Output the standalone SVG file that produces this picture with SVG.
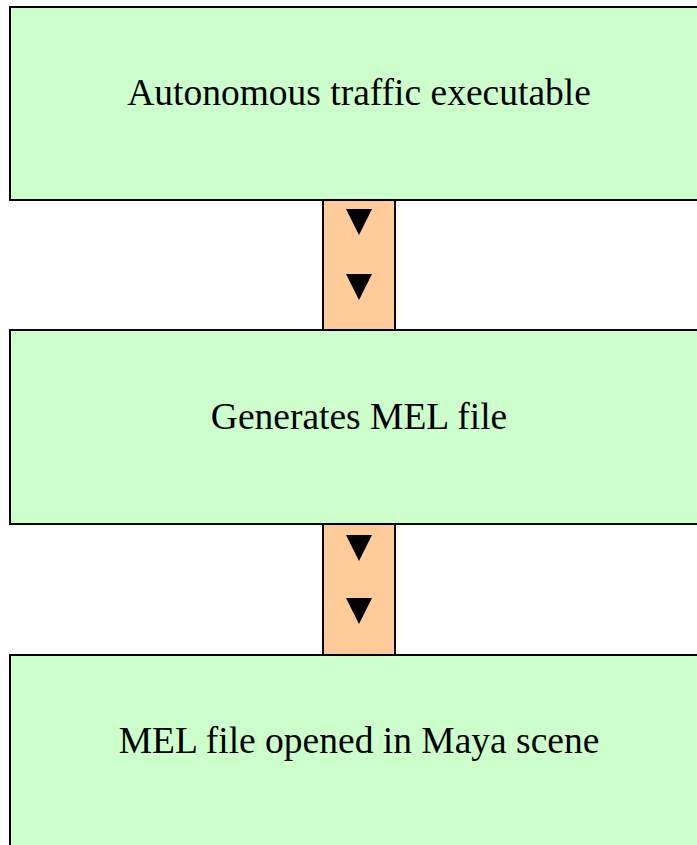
<svg xmlns="http://www.w3.org/2000/svg" width="697" height="845" viewBox="0 0 697 845">
<style>
.box{fill:#CCFFCC;stroke:#000;stroke-width:2}
.conn{fill:#FFCC99;stroke:#000;stroke-width:2}
.lbl{font-family:"Liberation Serif","Times New Roman",serif;font-size:37.5px;fill:#000;text-anchor:middle}
.tri{fill:#000}
</style>
<rect width="697" height="845" fill="#fff"/>
<g id="connectors">
<rect class="conn" x="323" y="199" width="72" height="131"/>
<polygon class="tri" points="346,209 372,209 359,235"/>
<polygon class="tri" points="346,274 372,274 359,300"/>
<rect class="conn" x="323" y="524" width="72" height="131"/>
<polygon class="tri" points="346,535 372,535 359,561"/>
<polygon class="tri" points="346,598 372,598 359,624"/>
</g>
<g id="node1">
<rect class="box" x="10" y="7" width="720" height="193"/>
<text class="lbl" x="359" y="105">Autonomous traffic executable</text>
</g>
<g id="node2">
<rect class="box" x="10" y="330" width="720" height="194"/>
<text class="lbl" x="359" y="429">Generates MEL file</text>
</g>
<g id="node3">
<rect class="box" x="10" y="655" width="720" height="220"/>
<text class="lbl" x="359" y="753">MEL file opened in Maya scene</text>
</g>
</svg>
